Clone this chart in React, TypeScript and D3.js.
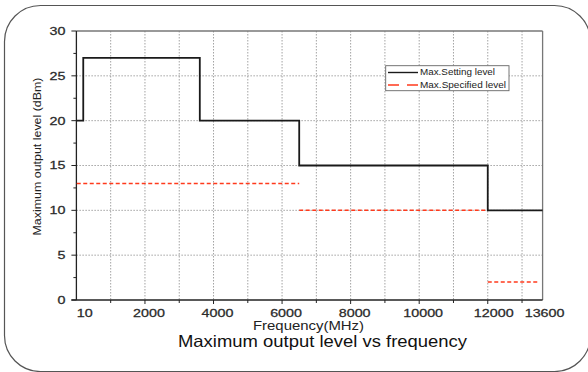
import React from "react";
import * as d3 from "d3";

const settingFreq = [10, 200, 200, 3600, 3600, 6500, 6500, 12000, 12000, 13600];
const settingLevel = [20, 20, 27, 27, 20, 20, 15, 15, 10, 10];

const specSegments = [
  { from: 10, to: 6500, level: 13 },
  { from: 6500, to: 12000, level: 10 },
  { from: 12000, to: 13500, level: 2 },
];

const xTickLabels = [10, 2000, 4000, 6000, 8000, 10000, 12000, 13600];
const xGridValues = [1000, 2000, 3000, 4000, 5000, 6000, 7000, 8000, 9000, 10000, 11000, 12000, 13000];
const yTicks = [0, 5, 10, 15, 20, 25, 30];
const yMinorTicks = [2.5, 7.5, 12.5, 17.5, 22.5, 27.5];

const legendItems = ["Max.Setting level", "Max.Specified level"];

export default function App() {
  const W = 588, H = 372;
  const left = 76.4, right = 542.6, top = 31, bottom = 300;
  const x = d3.scaleLinear().domain([0, 13600]).range([left, right]);
  const y = d3.scaleLinear().domain([0, 30]).range([bottom, top]);
  const line = d3.line<number>().x((_, i) => x(settingFreq[i])).y((d) => y(d));
  const font = "'Liberation Sans', Arial, sans-serif";
  const labelOffset = (v: number) => (v === 10 ? 8 : v === 13600 ? 2 : v === 12000 ? 6 : 4);

  return (
    <svg width={W} height={H} style={{ position: "absolute", left: 0, top: 0, background: "#fff" }} fontFamily={font}>
      <rect x={4.5} y={5.5} width={586} height={366} rx={36} ry={36} fill="#fff" stroke="#555" strokeWidth={1.2} />
      {/* grid */}
      {xGridValues.map((v) => (
        <line key={"gx" + v} x1={x(v)} x2={x(v)} y1={top} y2={bottom} stroke="#999" strokeWidth={0.9} strokeDasharray="1.5,1.5" />
      ))}
      {yTicks.filter((v) => v > 0 && v < 30).map((v) => (
        <line key={"gy" + v} x1={left} x2={right} y1={y(v)} y2={y(v)} stroke="#999" strokeWidth={0.9} strokeDasharray="1.5,1.5" />
      ))}
      {/* frame */}
      <line x1={left} x2={right} y1={top} y2={top} stroke="#777" strokeWidth={1.3} />
      <line x1={right} x2={right} y1={top} y2={bottom} stroke="#777" strokeWidth={1.3} />
      <line x1={left} x2={left} y1={top} y2={bottom} stroke="#222" strokeWidth={1.3} />
      <line x1={left - 5} x2={right} y1={bottom} y2={bottom} stroke="#222" strokeWidth={1.3} />
      {/* y ticks */}
      {yTicks.map((v) => (
        <g key={"yt" + v}>
          <line x1={left - 5} x2={left} y1={y(v)} y2={y(v)} stroke="#222" strokeWidth={1} />
          <text transform={`translate(${left - 11},${y(v)}) scale(1.3,1)`} dy="0.35em" textAnchor="end" fontSize={11} fill="#2a2a2a" stroke="#2a2a2a" strokeWidth={0.25}>{v}</text>
        </g>
      ))}
      {yMinorTicks.map((v) => (
        <line key={"ym" + v} x1={left - 3} x2={left} y1={y(v)} y2={y(v)} stroke="#222" strokeWidth={1} />
      ))}
      {/* x ticks */}
      {xGridValues.map((v) => (
        <line key={"xt" + v} x1={x(v)} x2={x(v)} y1={bottom} y2={bottom + (v % 2000 === 0 ? 4 : 3)} stroke="#222" strokeWidth={1} />
      ))}
      {xTickLabels.map((v) => (
        <text key={"xl" + v} transform={`translate(${x(v) + labelOffset(v)},${bottom + 17}) scale(1.3,1)`} textAnchor="middle" fontSize={11} fill="#2a2a2a" stroke="#2a2a2a" strokeWidth={0.25}>{v}</text>
      ))}
      {/* series */}
      {specSegments.map((s, i) => (
        <line key={"sp" + i} x1={x(s.from)} x2={x(s.to)} y1={y(s.level)} y2={y(s.level)} stroke="#ff3a1c" strokeWidth={1.5} strokeDasharray="4,2.5" />
      ))}
      <path d={line(settingLevel) || ""} fill="none" stroke="#1a1a1a" strokeWidth={1.8} />
      {/* legend */}
      <rect x={385.7} y={65.7} width={123.3} height={25} fill="#fff" stroke="#666" strokeWidth={0.9} />
      <line x1={388} x2={418} y1={72.5} y2={72.5} stroke="#1a1a1a" strokeWidth={1.4} />
      <line x1={388} x2={418} y1={85} y2={85} stroke="#ff3a1c" strokeWidth={1.4} strokeDasharray="11,8" />
      <text x={420} y={72.5} dy="0.35em" fontSize={8.5} fill="#222" textLength={75} lengthAdjust="spacingAndGlyphs">{legendItems[0]}</text>
      <text x={420} y={85} dy="0.35em" fontSize={8.5} fill="#222" textLength={86} lengthAdjust="spacingAndGlyphs">{legendItems[1]}</text>
      {/* axis titles */}
      <text transform={`translate(37,156.5) rotate(-90)`} textAnchor="middle" dy="0.35em" fontSize={10.5} fill="#222" textLength={158} lengthAdjust="spacingAndGlyphs">Maximum output level (dBm)</text>
      <text x={308.5} y={329.5} textAnchor="middle" fontSize={12} fill="#222" textLength={111} lengthAdjust="spacingAndGlyphs">Frequency(MHz)</text>
      <text x={322.5} y={347} textAnchor="middle" fontSize={16.5} fill="#111" textLength={289} lengthAdjust="spacingAndGlyphs">Maximum output level vs frequency</text>
    </svg>
  );
}
